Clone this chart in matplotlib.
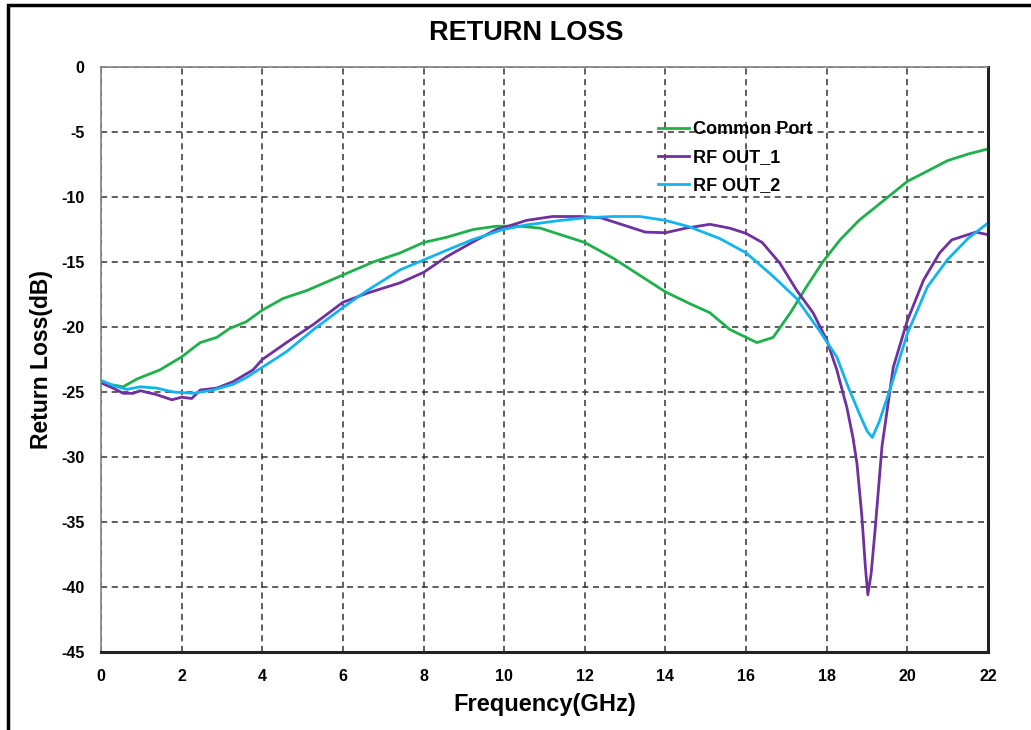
import matplotlib.pyplot as plt
from matplotlib.patches import Rectangle

plt.rcParams['font.family'] = ['Liberation Sans', 'DejaVu Sans']
plt.rcParams['font.weight'] = 'bold'
plt.rcParams['axes.unicode_minus'] = False

# Common Port
common_f = [0, 0.55, 0.89, 1.46, 2.0, 2.46, 2.87, 3.2, 3.6, 4.0, 4.52, 5.1, 6.0, 6.75,
            7.42, 8.0, 8.57, 9.23, 9.8, 10.4, 10.9, 11.4, 12.0, 12.7, 13.4, 14.0, 14.6,
            15.1, 15.6, 16.27, 16.67, 17.1, 17.5, 17.9, 18.33, 18.8, 19.0, 20.0, 21.0,
            21.5, 22.0]
common_rl = [-24.3, -24.6, -24.0, -23.3, -22.3, -21.2, -20.8, -20.1, -19.6, -18.7, -17.8,
             -17.2, -16.0, -15.0, -14.3, -13.5, -13.1, -12.5, -12.25, -12.25, -12.4, -12.9,
             -13.5, -14.7, -16.1, -17.3, -18.2, -18.9, -20.2, -21.2, -20.8, -18.9, -16.9,
             -15.0, -13.3, -11.8, -11.3, -8.8, -7.2, -6.7, -6.3]

# RF OUT_1
out1_f = [0, 0.3, 0.55, 0.8, 0.97, 1.38, 1.76, 2.0, 2.25, 2.46, 2.87, 3.28, 3.77, 4.0,
          4.6, 5.27, 6.0, 6.6, 7.42, 8.0, 8.57, 9.2, 9.8, 10.2, 10.55, 11.2, 11.9, 12.4,
          12.95, 13.5, 14.0, 14.5, 15.1, 15.6, 16.0, 16.4, 16.84, 17.26, 17.66, 18.0,
          18.25, 18.5, 18.65, 18.75, 18.87, 18.96, 19.02, 19.1, 19.2, 19.37, 19.65, 20.0,
          20.4, 20.8, 21.1, 21.7, 22.0]
out1_rl = [-24.3, -24.7, -25.1, -25.1, -24.9, -25.2, -25.6, -25.4, -25.5, -24.85, -24.7,
           -24.2, -23.3, -22.5, -21.2, -19.8, -18.1, -17.4, -16.6, -15.8, -14.6, -13.5,
           -12.5, -12.15, -11.8, -11.5, -11.5, -11.6, -12.15, -12.7, -12.75, -12.4, -12.1,
           -12.4, -12.8, -13.5, -15.1, -17.2, -18.9, -21.0, -23.3, -26.2, -28.5, -30.5,
           -34.5, -38.5, -40.6, -39.0, -35.6, -29.2, -23.1, -19.5, -16.4, -14.3, -13.3,
           -12.7, -12.9]

# RF OUT_2
out2_f = [0, 0.3, 0.64, 0.97, 1.38, 1.79, 2.29, 2.78, 3.28, 3.6, 4.0, 4.6, 5.27, 6.0,
          6.6, 7.42, 8.0, 8.57, 9.2, 9.97, 10.55, 11.4, 12.0, 12.7, 13.37, 14.0, 14.6,
          15.35, 16.0, 16.67, 17.25, 17.8, 18.25, 18.53, 18.8, 19.0, 19.13, 19.3, 19.57,
          20.0, 20.5, 21.0, 21.5, 22.0]
out2_rl = [-24.1, -24.5, -24.8, -24.6, -24.7, -25.0, -25.1, -24.85, -24.4, -23.9, -23.1,
           -21.9, -20.2, -18.5, -17.2, -15.6, -14.85, -14.1, -13.3, -12.5, -12.15, -11.8,
           -11.6, -11.5, -11.5, -11.8, -12.3, -13.2, -14.3, -16.1, -17.8, -20.2, -22.3,
           -24.6, -26.6, -28.0, -28.5, -27.3, -24.8, -20.5, -16.9, -14.8, -13.2, -12.0]

x_ticks = list(range(0, 23, 2))
y_ticks = list(range(-45, 1, 5))

fig = plt.figure(figsize=(10.31, 7.30), dpi=100)
ax = fig.add_axes([101 / 1031, 1 - 652 / 730, 887 / 1031, 585 / 730])

ax.plot(common_f, common_rl, color='#1db04b', lw=2.0, label='Common Port')
ax.plot(out1_f, out1_rl, color='#7030a0', lw=2.0, label='RF OUT_1')
ax.plot(out2_f, out2_rl, color='#12b4f0', lw=2.0, label='RF OUT_2')

ax.set_xlim(0, 22)
ax.set_ylim(-45, 0)
ax.set_xticks(x_ticks)
ax.set_yticks(y_ticks)
ax.tick_params(length=0, labelsize=11.5, pad=12)
ax.grid(True, color='#333333', linestyle=(0, (4, 3)), linewidth=1.1)

ax.spines['left'].set_color('#808080')
ax.spines['top'].set_color('#808080')
ax.spines['left'].set_linewidth(1.2)
ax.spines['top'].set_linewidth(1.2)
ax.spines['right'].set_color('#222222')
ax.spines['bottom'].set_color('#222222')
ax.spines['right'].set_linewidth(2.2)
ax.spines['bottom'].set_linewidth(2.2)

ax.set_xlabel('Frequency(GHz)', fontsize=17, fontweight='bold', labelpad=7)
ax.set_ylabel('Return Loss(dB)', fontsize=16.5, fontweight='bold', labelpad=6)
fig.text(526 / 1031, 1 - 33 / 730, 'RETURN LOSS', fontsize=19.5, fontweight='bold',
         ha='center', va='center')

ax.legend(loc='upper left', bbox_to_anchor=(0.61, 0.935), frameon=False,
          fontsize=13, handlelength=1.7, handletextpad=0.2, labelspacing=0.6)

# outer frame of the picture
fig.patches.append(Rectangle((8 / 1031, -0.2), 1.2, 1.2 - 5 / 730,
                             transform=fig.transFigure, fill=False,
                             edgecolor='black', linewidth=2.5))

fig.savefig('out.png', dpi=100)
